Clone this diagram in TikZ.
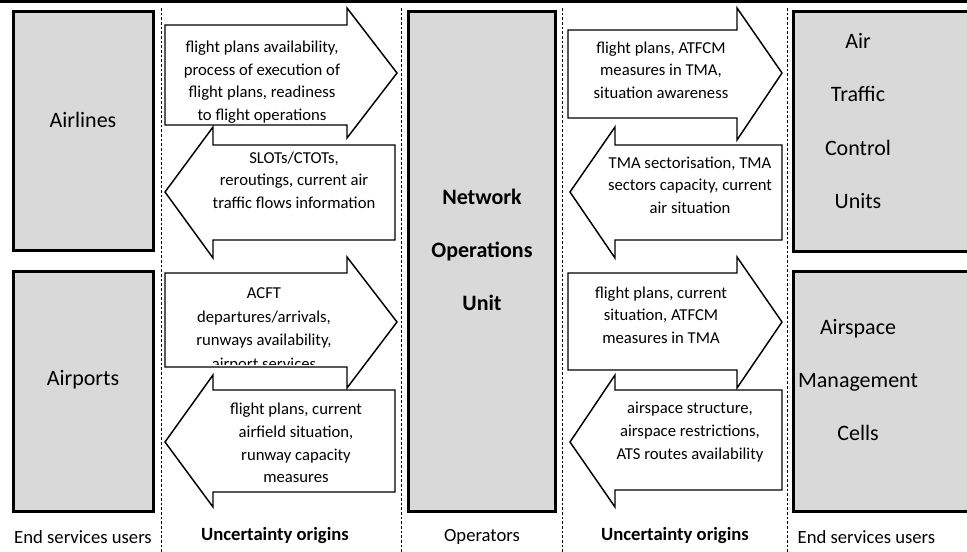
\documentclass[tikz,border=0pt]{standalone}
\usepackage{fontspec}
\setmainfont{Carlito}
\definecolor{unitgray}{RGB}{217, 217, 217}
\usetikzlibrary{positioning}

\begin{document}
\begin{tikzpicture}[x=0.75pt, y=-0.75pt,
    unitbox/.style={draw, line width=2.25pt, fill=unitgray},
    flow/.style={draw, line width=1.1pt, fill=white, line join=miter},
    flowtext/.style={align=center, inner sep=0pt,
                     font=\fontsize{12.5}{17}\selectfont},
    unitlabel/.style={align=center, font=\fontsize{16.5}{40}\selectfont},
    footlabel/.style={font=\fontsize{14}{16}\selectfont},
    divider/.style={dash pattern=on 2pt off 1.5pt, line width=0.6pt}]
    \useasboundingbox (0,0) rectangle (967,552);
    \clip (0,0) rectangle (967,552);

    % top rule and column dividers
    \fill (0,0) rectangle (967,3);
    \foreach \xd in {161, 401, 562, 787}
      \draw[divider] (\xd,8) -- (\xd,552);

    % units
    \draw[unitbox] (13.5,11.5) rectangle (153.5,250.5);
    \draw[unitbox] (13.5,271.5) rectangle (153.5,511.5);
    \draw[unitbox] (408.5,11.5) rectangle (555.5,511.5);
    \draw[unitbox] (793.5,11.5) rectangle (990,251.5);
    \draw[unitbox] (793.5,271.5) rectangle (990,511.5);

    \node[unitlabel] (airlines) at (83,120) {Airlines};
    \node[unitlabel] (airports) at (83,380) {Airports};
    \node[unitlabel, font=\fontsize{16.5}{40}\selectfont\bfseries] (nou) at (482,250)
      {Network\\Operations\\Unit};
    \node[unitlabel] (atc) at (858,121) {Air\\Traffic\\Control\\Units};
    \node[unitlabel] (amc) at (858,380) {Airspace\\Management\\Cells};

    % left flows
    \draw[flow] (165,25) -- (347,25) -- (347,8) -- (397,73) -- (347,138)
      -- (347,125) -- (165,125) -- cycle;
    \draw[flow] (165,192) -- (213,127) -- (213,145) -- (395,145) -- (395,240)
      -- (213,240) -- (213,258) -- cycle;
    \draw[flow] (165,273) -- (347,273) -- (347,257) -- (397,322) -- (347,388)
      -- (347,367) -- (165,367) -- cycle;
    \draw[flow] (165,442) -- (213,375) -- (213,390) -- (395,390) -- (395,492)
      -- (213,492) -- (213,507) -- cycle;

    % right flows
    \draw[flow] (568,30) -- (737,30) -- (737,8) -- (782,73) -- (737,140)
      -- (737,118) -- (568,118) -- cycle;
    \draw[flow] (570,192) -- (615,127) -- (615,145) -- (782,145) -- (782,240)
      -- (615,240) -- (615,258) -- cycle;
    \draw[flow] (568,273) -- (737,273) -- (737,257) -- (782,322) -- (737,388)
      -- (737,370) -- (568,370) -- cycle;
    \draw[flow] (570,442) -- (615,375) -- (615,390) -- (782,390) -- (782,490)
      -- (615,490) -- (615,507) -- cycle;

    \node[flowtext] (alOut) at (262,82)
      {flight plans availability,\\process of execution of\\flight plans, readiness\\to flight operations};
    \node[flowtext] (alIn) at (294,180)
      {SLOTs/CTOTs,\\reroutings, current air\\traffic flows information};
    \begin{scope}
      \clip (166,274) rectangle (346,364.5);
      \node[flowtext, font=\fontsize{12.5}{17.6}\selectfont] (apOut) at (264,330)
        {ACFT\\departures/arrivals,\\runways availability,\\airport services};
    \end{scope}
    \node[flowtext] (apIn) at (296,443)
      {flight plans, current\\airfield situation,\\runway capacity\\measures};
    \node[flowtext] (atcOut) at (661,70)
      {flight plans, ATFCM\\measures in TMA,\\situation awareness};
    \node[flowtext] (atcIn) at (690,185)
      {TMA sectorisation, TMA\\sectors capacity, current\\air situation};
    \node[flowtext] (amcOut) at (661,315)
      {flight plans, current\\situation, ATFCM\\measures in TMA};
    \node[flowtext] (amcIn) at (690,432)
      {airspace structure,\\airspace restrictions,\\ATS routes availability};

    % column captions
    \node[footlabel] (capUsersL) at (83,537) {End services users};
    \node[footlabel, font=\fontsize{14}{16}\selectfont\bfseries] (capOriginsL) at (275,536) {Uncertainty origins};
    \node[footlabel] (capOperators) at (482,537) {Operators};
    \node[footlabel, font=\fontsize{14}{16}\selectfont\bfseries] (capOriginsR) at (675,536) {Uncertainty origins};
    \node[footlabel, anchor=west] (capUsersR) at (793,537) {End services users};
\end{tikzpicture}
\end{document}
